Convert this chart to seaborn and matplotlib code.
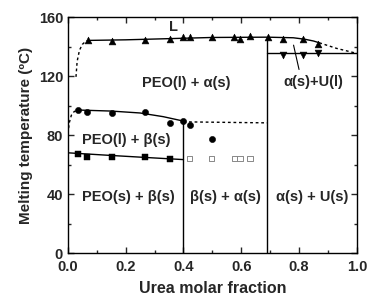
import matplotlib
matplotlib.use("Agg")
import matplotlib.pyplot as plt
import seaborn as sns

# liquidus (triangles up)
liq_x = [0.070, 0.153, 0.266, 0.353, 0.397, 0.422, 0.498, 0.576, 0.597, 0.630, 0.691, 0.745, 0.814, 0.866]
liq_y = [144.2, 143.8, 144.6, 145.3, 146.2, 146.2, 146.7, 146.7, 145.3, 147.4, 146.2, 145.3, 145.0, 142.1]
# alpha(s)+U(l) eutectic (triangles down)
eut_x = [0.745, 0.814, 0.866]
eut_y = [134.2, 134.2, 135.8]
# PEO(l)+beta(s) melting (circles)
mid_x = [0.036, 0.067, 0.153, 0.266, 0.353, 0.399, 0.422, 0.498]
mid_y = [97.0, 95.8, 94.7, 95.8, 88.3, 89.7, 86.8, 77.7]
# PEO melting (filled squares)
low_x = [0.036, 0.067, 0.153, 0.266, 0.353]
low_y = [67.5, 65.3, 65.3, 64.9, 63.7]
# open squares
open_x = [0.422, 0.498, 0.576, 0.596, 0.630]
open_y = [64.2, 64.2, 64.2, 64.2, 64.2]

# guide curves
liq_fit_x = [0.070, 0.20, 0.35, 0.50, 0.69, 0.78, 0.82, 0.85, 0.87]
liq_fit_y = [144.2, 144.6, 145.4, 146.2, 146.4, 146.0, 145.0, 143.8, 142.6]
liq_dash_x = [0.87, 0.93, 1.00]
liq_dash_y = [142.6, 138.8, 135.4]
left_dash_x = [0.028, 0.032, 0.040, 0.050, 0.060, 0.070]
left_dash_y = [119.5, 130.0, 137.5, 141.5, 143.3, 144.2]
mid_fit_x = [0.036, 0.15, 0.25, 0.33, 0.40]
mid_fit_y = [97.0, 96.3, 95.0, 92.5, 89.5]
mid_dash_x = [0.40, 0.69]
mid_dash_y = [89.0, 88.3]
mid_left_x = [0.0, 0.005, 0.012, 0.022, 0.036]
mid_left_y = [81.0, 88.5, 93.5, 96.0, 97.0]
low_fit_x = [0.0, 0.15, 0.30, 0.40]
low_fit_y = [68.0, 66.2, 64.5, 63.4]
eut_line_x = [0.69, 1.0]
eut_line_y = [135.4, 135.4]

sns.set_style("ticks")
plt.rcParams["font.family"] = ["Liberation Sans", "DejaVu Sans"]
plt.rcParams["font.weight"] = "bold"

fig = plt.figure(figsize=(3.69, 2.95), dpi=100)
ax = fig.add_axes([0.184, 0.142, 0.783, 0.800])

k = dict(color="black", lw=1.0)
ax.plot(liq_fit_x, liq_fit_y, **k)
ax.plot(liq_dash_x, liq_dash_y, ls=(0, (2, 2)), **k)
ax.plot(left_dash_x, left_dash_y, ls=(0, (2, 2)), **k)
ax.plot(mid_fit_x, mid_fit_y, **k)
ax.plot(mid_dash_x, mid_dash_y, ls=(0, (2, 2)), **k)
ax.plot(mid_left_x, mid_left_y, ls=(0, (2, 2)), **k)
ax.plot(low_fit_x, low_fit_y, **k)
ax.plot(eut_line_x, eut_line_y, **k)
ax.plot([0.4, 0.4], [0, mid_fit_y[-1]], **k)
ax.plot([0.69, 0.69], [0, liq_fit_y[4]], **k)

sns.scatterplot(x=liq_x, y=liq_y, marker="^", s=24, color="black", edgecolor="black", ax=ax)
sns.scatterplot(x=eut_x, y=eut_y, marker="v", s=24, color="black", edgecolor="black", ax=ax)
sns.scatterplot(x=mid_x, y=mid_y, marker="o", s=20, color="black", edgecolor="black", ax=ax)
sns.scatterplot(x=low_x, y=low_y, marker="s", s=16, color="black", edgecolor="black", ax=ax)
sns.scatterplot(x=open_x, y=open_y, marker="s", s=14, facecolor="none", edgecolor="#888888", linewidth=0.7, ax=ax)

fs = 10.5
ax.text(0.364, 153.4, "L", ha="center", va="center", fontsize=fs, fontweight="bold")
ax.text(0.41, 115, "PEO(l) + α(s)", ha="center", va="center", fontsize=fs, fontweight="bold")
ax.text(0.85, 116, "α(s)+U(l)", ha="center", va="center", fontsize=fs, fontweight="bold")
ax.plot([0.781, 0.80], [141, 124.5], color="black", lw=0.8)
ax.text(0.203, 77, "PEO(l) + β(s)", ha="center", va="center", fontsize=fs, fontweight="bold")
ax.text(0.208, 38.2, "PEO(s) + β(s)", ha="center", va="center", fontsize=fs, fontweight="bold")
ax.text(0.545, 38.2, "β(s) + α(s)", ha="center", va="center", fontsize=fs, fontweight="bold")
ax.text(0.845, 38.2, "α(s) + U(s)", ha="center", va="center", fontsize=fs, fontweight="bold")

ax.set_xlim(0, 1.0)
ax.set_ylim(0, 160)
ax.set_xticks([0.0, 0.2, 0.4, 0.6, 0.8, 1.0])
ax.set_xticks([0.1, 0.3, 0.5, 0.7, 0.9], minor=True)
ax.set_yticks([0, 40, 80, 120, 160])
ax.set_yticks([20, 60, 100, 140], minor=True)
ax.set_xticklabels(["0.0", "0.2", "0.4", "0.6", "0.8", "1.0"])
ax.tick_params(which="both", direction="in", top=True, right=True, labelsize=10.5, width=1.0)
ax.tick_params(which="major", length=4)
ax.tick_params(which="minor", length=2.5)
ax.tick_params(axis="x", which="major", pad=5)
for lab in ax.get_xticklabels() + ax.get_yticklabels():
    lab.set_fontweight("bold")
for sp in ax.spines.values():
    sp.set_linewidth(1.0)
    sp.set_color("black")

ax.set_xlabel("Urea molar fraction", fontsize=11.5, fontweight="bold", labelpad=5)
ax.set_ylabel("Melting temperature (ºC)", fontsize=11, fontweight="bold", labelpad=4)

fig.savefig("out.png", dpi=100)
